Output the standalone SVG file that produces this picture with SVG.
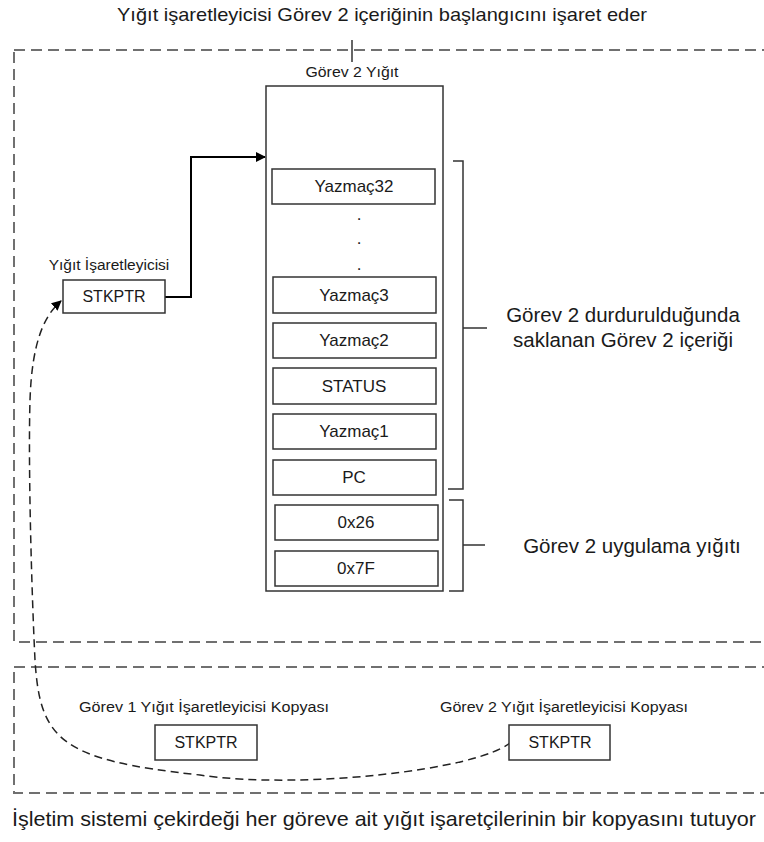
<svg xmlns="http://www.w3.org/2000/svg" width="764" height="842" viewBox="0 0 764 842">
<style>
text{font-family:"Liberation Sans",Arial,sans-serif;fill:#1a1a1a}
.cap{font-size:19px;text-anchor:middle}
.lbl{font-size:15.5px;text-anchor:middle}
.reg{font-size:17px;text-anchor:middle}
.ptr{font-size:16px;text-anchor:middle}
.big{font-size:20.5px;text-anchor:middle}
.box{fill:#fff;stroke:#333;stroke-width:1.5}
.frame{fill:none;stroke:#707070;stroke-width:2;stroke-dasharray:11 6}
.br{fill:none;stroke:#333;stroke-width:1.5}
</style>
<defs>
<marker id="ah" markerWidth="10" markerHeight="10" refX="9" refY="5" orient="auto" markerUnits="userSpaceOnUse">
<path d="M0,0 L10,5 L0,10 Z" fill="#000"/>
</marker>
</defs>
<rect width="764" height="842" fill="#fff"/>
<g id="frames">
<rect class="frame" x="14" y="50" width="800" height="592"/>
<rect class="frame" x="14" y="667" width="800" height="126"/>
</g>
<text class="cap" x="382" y="21" textLength="530" lengthAdjust="spacingAndGlyphs">Yığıt işaretleyicisi Görev 2 içeriğinin başlangıcını işaret eder</text>
<g id="connectors">
<line x1="352" y1="40" x2="352" y2="62" stroke="#333" stroke-width="1.5"/>
<path d="M165,297 H191 V157 H265" fill="none" stroke="#000" stroke-width="2" marker-end="url(#ah)"/>
<path d="M511,742 C480,770 300,790 200,775 C60,760 40,740 35,660 C32,600 28,470 30,400 C32,340 45,315 61,301" fill="none" stroke="#222" stroke-width="1.5" stroke-dasharray="8 5" marker-end="url(#ah)"/>
<path class="br" d="M453,161 H463 V489 H448 M463,328 H487"/>
<path class="br" d="M449,500 H463 V591 H449 M463,545 H485"/>
</g>
<g id="stack">
<text class="lbl" x="352" y="77" textLength="93" lengthAdjust="spacingAndGlyphs">Görev 2 Yığıt</text>
<rect class="box" x="266" y="86" width="177" height="505"/>
</g>
<g id="r32"><rect class="box" x="272" y="169" width="163" height="35"/><text class="reg" x="354" y="192">Yazmaç32</text></g>
<g id="dots"><text class="reg" x="359" y="220">.</text><text class="reg" x="359" y="244">.</text><text class="reg" x="359" y="270">.</text></g>
<g id="r3"><rect class="box" x="273" y="277" width="163" height="36"/><text class="reg" x="354" y="301">Yazmaç3</text></g>
<g id="r2"><rect class="box" x="273" y="323" width="163" height="35"/><text class="reg" x="354" y="346">Yazmaç2</text></g>
<g id="status"><rect class="box" x="273" y="368" width="163" height="36"/><text class="reg" x="354" y="392">STATUS</text></g>
<g id="r1"><rect class="box" x="273" y="414" width="163" height="35"/><text class="reg" x="354" y="437">Yazmaç1</text></g>
<g id="pc"><rect class="box" x="273" y="460" width="163" height="35"/><text class="reg" x="354" y="483">PC</text></g>
<g id="v26"><rect class="box" x="275" y="505" width="163" height="35"/><text class="reg" x="356" y="528">0x26</text></g>
<g id="v7f"><rect class="box" x="275" y="551" width="163" height="35"/><text class="reg" x="356" y="574">0x7F</text></g>
<g id="saved"><text class="big" x="623" y="322">Görev 2 durdurulduğunda</text><text class="big" x="623" y="347">saklanan Görev 2 içeriği</text></g>
<g id="appstack"><text class="big" x="632" y="553">Görev 2 uygulama yığıtı</text></g>
<g id="sp">
<text class="lbl" x="109" y="270">Yığıt İşaretleyicisi</text>
<rect class="box" x="63" y="280" width="102" height="33"/>
<text class="ptr" x="114" y="302">STKPTR</text>
</g>
<g id="copy1">
<text class="lbl" x="204" y="712" textLength="250" lengthAdjust="spacingAndGlyphs">Görev 1 Yığıt İşaretleyicisi Kopyası</text>
<rect class="box" x="155" y="725" width="102" height="35"/>
<text class="ptr" x="206" y="748">STKPTR</text>
</g>
<g id="copy2">
<text class="lbl" x="564" y="712" textLength="248" lengthAdjust="spacingAndGlyphs">Görev 2 Yığıt İşaretleyicisi Kopyası</text>
<rect class="box" x="509" y="725" width="101" height="35"/>
<text class="ptr" x="560" y="748">STKPTR</text>
</g>
<text class="big" x="384" y="826" textLength="744" lengthAdjust="spacingAndGlyphs" style="font-size:21px">İşletim sistemi çekirdeği her göreve ait yığıt işaretçilerinin bir kopyasını tutuyor</text>
</svg>
